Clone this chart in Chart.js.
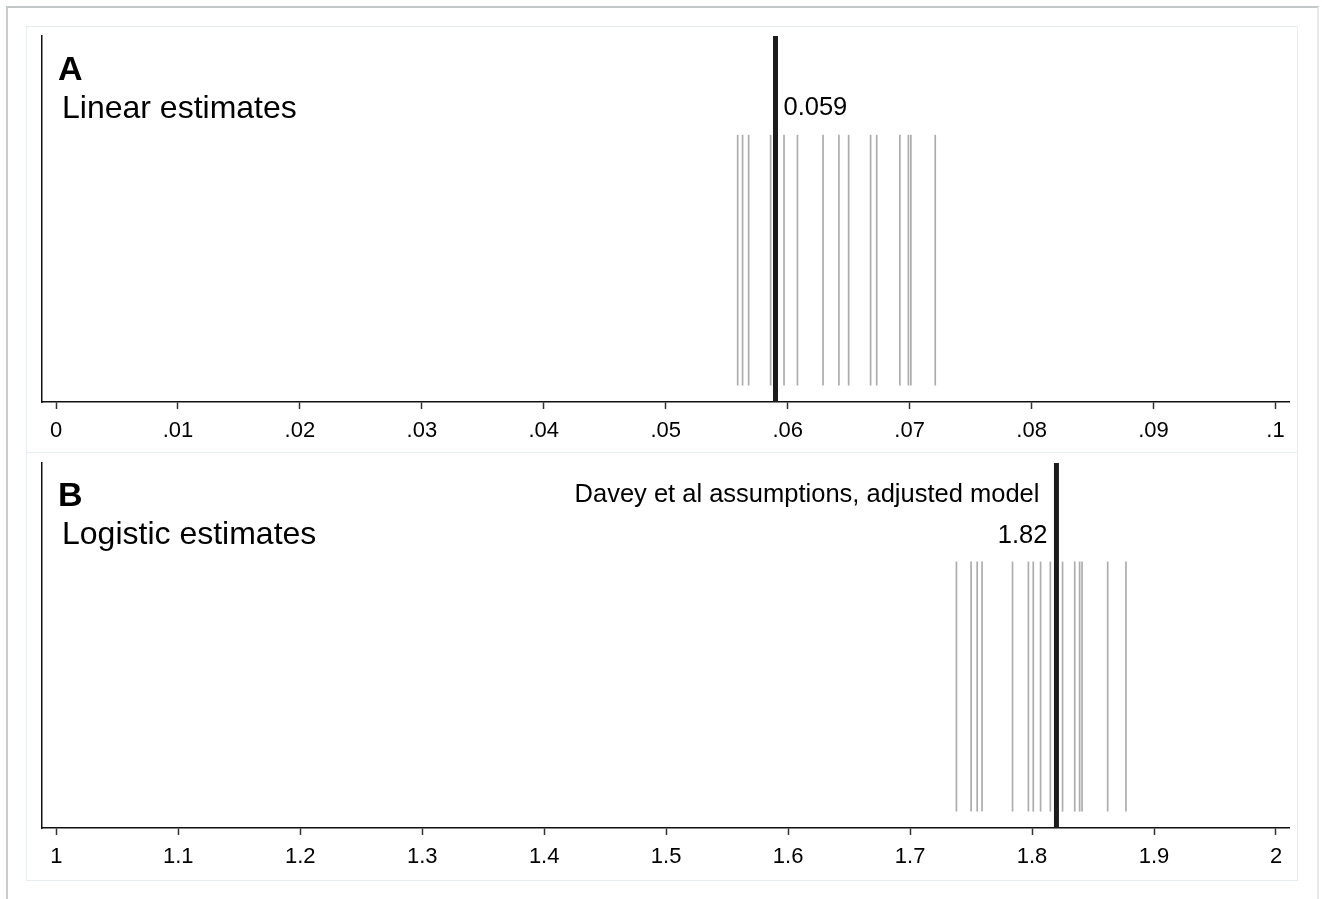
<!DOCTYPE html>
<html>
<head>
<meta charset="utf-8">
<script src="https://cdn.jsdelivr.net/npm/chart.js@4/dist/chart.umd.min.js"></script>
<style>
    body { margin: 0; background: #fff; width: 1322px; height: 899px; overflow: hidden; position: relative; }
    .frame { position: absolute; left: 6px; top: 6px; width: 1309px; height: 900px;
             border-top: 2px solid #c3c7c7; border-left: 2px solid #c8cccc; border-right: 2px solid #e6eaea; }
    .panel { position: absolute; left: 26px; width: 1272px; background: #fff; border: 1px solid #e8eef0; box-sizing: border-box; }
    #panelA { top: 26px; height: 427px; }
    #panelB { top: 452px; height: 429px; }
    canvas { display: block; }
</style>
</head>
<body>
<div class="frame"></div>
<div class="panel" id="panelA"><canvas id="chartA"></canvas></div>
<div class="panel" id="panelB"><canvas id="chartB"></canvas></div>

<script>
// ===== Data =====
// Panel A: linear estimates (risk difference)
const linearEstimates = [0.0559, 0.0563, 0.0568, 0.0586, 0.0597, 0.0608, 0.0629, 0.0642,
                         0.0650, 0.0668, 0.0673, 0.0692, 0.0699, 0.0701, 0.0721];
const linearMain = 0.059;
const linearMainLabel = '0.059';
const linearTicks = [0, 0.01, 0.02, 0.03, 0.04, 0.05, 0.06, 0.07, 0.08, 0.09, 0.1];
const linearTickLabels = ['0', '.01', '.02', '.03', '.04', '.05', '.06', '.07', '.08', '.09', '.1'];

// Panel B: logistic estimates (odds ratio)
const logisticEstimates = [1.738, 1.750, 1.755, 1.759, 1.784, 1.797, 1.801, 1.807,
                           1.815, 1.825, 1.835, 1.839, 1.841, 1.862, 1.877];
const logisticMain = 1.82;
const logisticMainLabel = '1.82';
const logisticNote = 'Davey et al assumptions, adjusted model';
const logisticTicks = [1, 1.1, 1.2, 1.3, 1.4, 1.5, 1.6, 1.7, 1.8, 1.9, 2];
const logisticTickLabels = ['1', '1.1', '1.2', '1.3', '1.4', '1.5', '1.6', '1.7', '1.8', '1.9', '2'];

const FONT = '"Liberation Sans", Arial, sans-serif';
const SPIKE_LOW = 0.045;
const SPIKE_HIGH = 0.73;

// ===== Text drawn on each panel =====
const panelText = {
    id: 'panelText',
    afterDraw(chart, args, opts) {
        const ctx = chart.ctx;
        const xs = chart.scales.x;
        const px = xs.getPixelForValue(opts.mainValue);
        ctx.save();
        ctx.fillStyle = '#000';
        ctx.textBaseline = 'alphabetic';
        ctx.textAlign = 'left';
        ctx.font = 'bold 34px ' + FONT;
        ctx.fillText(opts.letter, 31, 53);
        ctx.font = '32px ' + FONT;
        ctx.fillText(opts.title, 35, 91);
        ctx.font = '25.5px ' + FONT;
        opts.notes.forEach(n => {
            ctx.textAlign = n.side === 'right' ? 'left' : 'right';
            const x = n.side === 'right' ? px + n.gap : px - n.gap;
            ctx.fillText(n.text, x, n.baseline);
        });
        ctx.restore();
    }
};

function makeChart(canvasId, height, values, mainValue, ticks, tickLabels, xMin, xMax, textOpts, topPad) {
    const canvas = document.getElementById(canvasId);
    canvas.width = 1270;
    canvas.height = height;

    const datasets = values.map(v => ({
        data: [{ x: v, y: SPIKE_LOW }, { x: v, y: SPIKE_HIGH }],
        borderColor: '#adadad',
        borderWidth: 1.7,
        pointRadius: 0,
        showLine: true
    }));
    datasets.push({
        data: [{ x: mainValue, y: 0 }, { x: mainValue, y: 1 }],
        borderColor: '#1c1c1c',
        borderWidth: 5,
        pointRadius: 0,
        showLine: true
    });

    return new Chart(canvas.getContext('2d'), {
        type: 'scatter',
        data: { datasets: datasets },
        options: {
            responsive: false,
            animation: false,
            layout: { padding: { left: 15, top: topPad, right: 8, bottom: 0 } },
            plugins: {
                legend: { display: false },
                tooltip: { enabled: false },
                panelText: textOpts
            },
            scales: {
                x: {
                    type: 'linear',
                    min: xMin,
                    max: xMax,
                    afterBuildTicks: s => { s.ticks = ticks.map(v => ({ value: v })); },
                    afterFit: s => { s.height = height - 375; },
                    grid: {
                        drawOnChartArea: false,
                        drawTicks: true,
                        tickLength: 7,
                        tickWidth: 1.5,
                        tickColor: '#333'
                    },
                    border: { display: true, color: '#111', width: 1.5 },
                    ticks: {
                        color: '#000',
                        font: { family: FONT, size: 22 },
                        padding: 9,
                        maxRotation: 0,
                        autoSkip: false,
                        callback: (value, index) => tickLabels[index]
                    }
                },
                y: {
                    min: 0,
                    max: 1,
                    afterFit: s => { s.width = 0; },
                    grid: { display: false },
                    border: { display: true, color: '#111', width: 1.5 },
                    ticks: { display: false }
                }
            }
        },
        plugins: [panelText]
    });
}

document.addEventListener('DOMContentLoaded', function() {
    makeChart('chartA', 425, linearEstimates, linearMain, linearTicks, linearTickLabels,
        -0.00115, 0.10111, {
            letter: 'A',
            title: 'Linear estimates',
            mainValue: linearMain,
            notes: [{ text: linearMainLabel, side: 'right', gap: 8, baseline: 88 }]
        }, 9);

    makeChart('chartB', 427, logisticEstimates, logisticMain, logisticTicks, logisticTickLabels,
        0.98828, 2.01066, {
            letter: 'B',
            title: 'Logistic estimates',
            mainValue: logisticMain,
            notes: [
                { text: logisticNote, side: 'left', gap: 17, baseline: 49 },
                { text: logisticMainLabel, side: 'left', gap: 9, baseline: 90 }
            ]
        }, 10);
});
</script>
</body>
</html>
